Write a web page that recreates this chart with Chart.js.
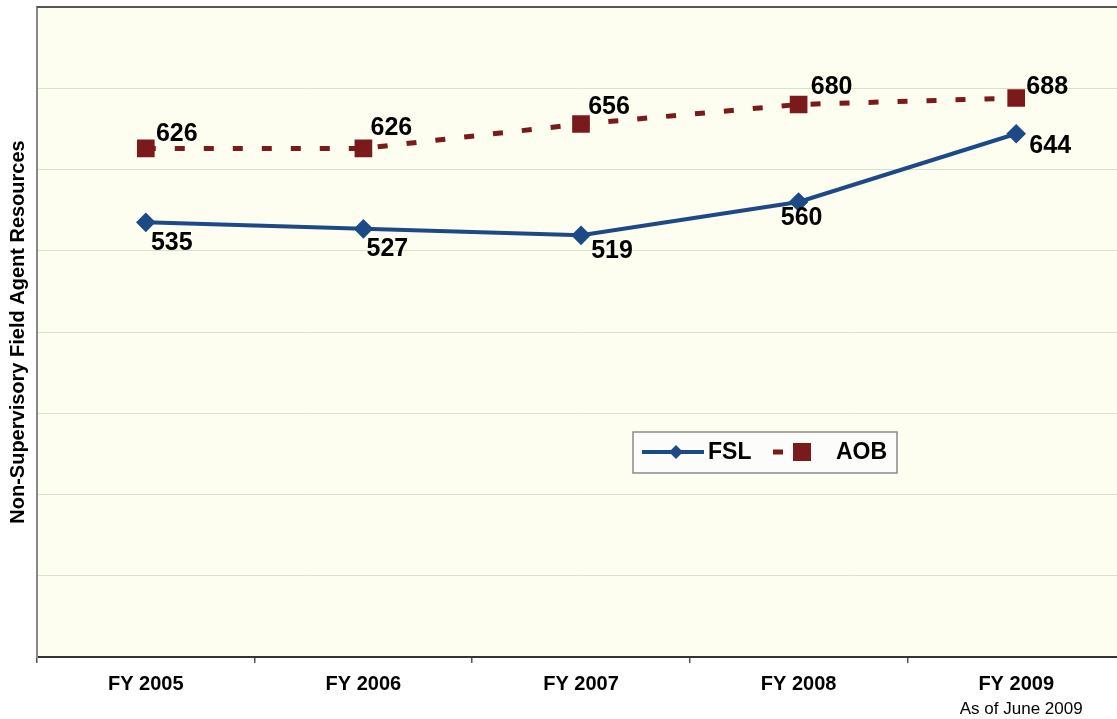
<!DOCTYPE html>
<html>
<head>
<meta charset="utf-8">
<script src="https://cdn.jsdelivr.net/npm/chart.js@4.4.0/dist/chart.umd.min.js"></script>
<style>
  html, body { margin: 0; padding: 0; background: #fff; overflow: hidden; }
  canvas { display: block; }
</style>
</head>
<body>
<canvas id="chart" width="1126" height="719"></canvas>
<script>
const years    = ['FY 2005', 'FY 2006', 'FY 2007', 'FY 2008', 'FY 2009'];
const fsl      = [535, 527, 519, 560, 644];
const aob      = [626, 626, 656, 680, 688];
const yMin = 0, yMax = 800, yStep = 100;
const yTitle   = 'Non-Supervisory Field Agent Resources';
const subLabel = 'As of June 2009';

const blue   = '#1d4a86';
const maroon = '#7a1a1a';
const font   = "'Liberation Sans', Arial, sans-serif";

// label offsets from the point (label centre), in px
const fslOff = [[26, 21], [24, 20], [31, 16], [3, 16], [34, 12]];
const aobOff = [[31, -14], [28, -20], [28, -17], [33, -17], [31, -11]];

const decor = {
  id: 'decor',
  beforeDraw(chart) {
    const { ctx, chartArea: a } = chart;
    ctx.save();
    ctx.fillStyle = '#fefef0';
    ctx.fillRect(a.left, a.top, a.right - a.left, a.bottom - a.top);
    ctx.restore();
  },
  afterDraw(chart) {
    const { ctx, chartArea: a } = chart;
    ctx.save();
    // top border
    ctx.strokeStyle = '#555';
    ctx.lineWidth = 2;
    ctx.beginPath(); ctx.moveTo(a.left, a.top); ctx.lineTo(a.right, a.top); ctx.stroke();

    // value labels
    ctx.fillStyle = '#000';
    ctx.font = 'bold 25px ' + font;
    ctx.textAlign = 'center';
    ctx.textBaseline = 'middle';
    [[0, fsl, fslOff], [1, aob, aobOff]].forEach(([di, vals, off]) => {
      chart.getDatasetMeta(di).data.forEach((p, i) => {
        ctx.fillText(String(vals[i]), p.x + off[i][0], p.y + off[i][1]);
      });
    });

    // sub label under the last category
    const xs = chart.scales.x;
    ctx.font = '17px ' + font;
    ctx.textBaseline = 'alphabetic';
    ctx.fillText(subLabel, xs.getPixelForValue(4) + 5, 714);

    // legend box
    const lx = 633, ly = 432, lw = 264, lh = 41;
    ctx.fillStyle = '#fcfcfa';
    ctx.fillRect(lx, ly, lw, lh);
    ctx.strokeStyle = '#8a8a8a';
    ctx.lineWidth = 1.5;
    ctx.strokeRect(lx, ly, lw, lh);
    const cy = ly + 20;
    ctx.strokeStyle = blue; ctx.lineWidth = 4;
    ctx.beginPath(); ctx.moveTo(642, cy); ctx.lineTo(704, cy); ctx.stroke();
    ctx.fillStyle = blue;
    ctx.beginPath();
    ctx.moveTo(676, cy - 7); ctx.lineTo(683, cy); ctx.lineTo(676, cy + 7); ctx.lineTo(669, cy);
    ctx.closePath(); ctx.fill();
    ctx.strokeStyle = maroon; ctx.lineWidth = 5;
    ctx.beginPath(); ctx.moveTo(773, cy); ctx.lineTo(783, cy); ctx.stroke();
    ctx.fillStyle = maroon;
    ctx.fillRect(793, cy - 9, 18, 18);
    ctx.fillStyle = '#000';
    ctx.font = 'bold 23px ' + font;
    ctx.textAlign = 'left';
    ctx.textBaseline = 'middle';
    ctx.fillText('FSL', 708, cy + 1);
    ctx.fillText('AOB', 836, cy + 1);
    ctx.restore();
  }
};

new Chart(document.getElementById('chart'), {
  type: 'line',
  data: {
    labels: years,
    datasets: [
      {
        label: 'FSL', data: fsl, borderColor: blue, backgroundColor: blue,
        borderWidth: 4, pointStyle: 'rectRot', pointRadius: 7, pointHoverRadius: 7,
        tension: 0, fill: false,
      },
      {
        label: 'AOB', data: aob, borderColor: maroon, backgroundColor: maroon,
        borderWidth: 5, borderDash: [10, 19], pointStyle: 'rect', pointRadius: 12.5, pointHoverRadius: 12.5,
        pointBorderWidth: 0, tension: 0, fill: false,
      },
    ],
  },
  options: {
    responsive: false, animation: false,
    layout: { autoPadding: false, padding: { top: 7, left: 0, right: 1, bottom: 0 } },
    plugins: { legend: { display: false }, tooltip: { enabled: false } },
    scales: {
      x: {
        offset: true,
        grid: { display: true, offset: true, drawOnChartArea: false, tickLength: 6, color: '#555', lineWidth: 1.5 },
        border: { display: true, color: '#333', width: 2 },
        ticks: { color: '#000', font: { family: font, size: 20, weight: 'bold' }, padding: 9, maxRotation: 0 },
        afterFit(s) { s.height = 62; },
      },
      y: {
        min: yMin, max: yMax,
        ticks: { display: false, stepSize: yStep },
        grid: { color: '#d6e3c6', lineWidth: 1, drawTicks: false },
        border: { display: true, color: '#888', width: 2 },
        title: { display: true, text: yTitle, color: '#000', font: { family: font, size: 20, weight: 'bold' }, padding: { top: 6, bottom: 0 } },
        afterFit(s) { s.width = 37; },
      },
    },
  },
  plugins: [decor],
});
</script>
</body>
</html>
